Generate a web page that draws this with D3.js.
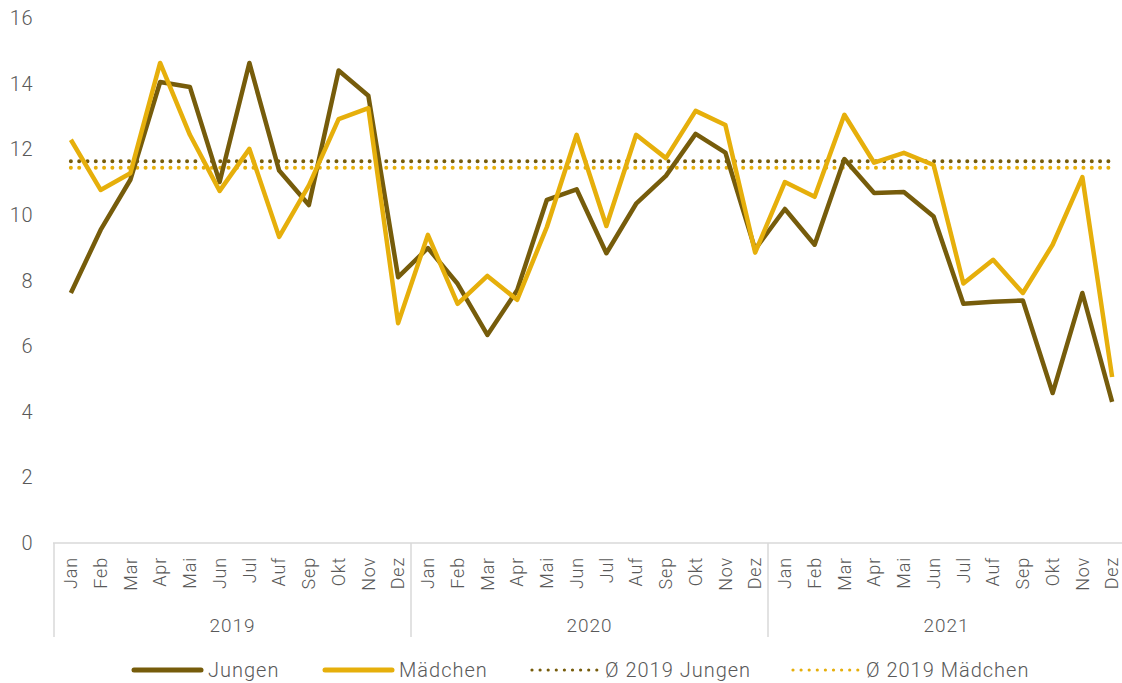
<!DOCTYPE html>
<html>
<head>
<meta charset="utf-8">
<script src="https://cdn.jsdelivr.net/npm/d3@7"></script>
<style>
  body { margin: 0; background: #fff; }
  svg text { font-family: Roboto, "Noto Sans", sans-serif; font-weight: 300; fill: #595959; }
</style>
</head>
<body>
<div id="chart"></div>
<script>
const years = ["2019", "2020", "2021"];
const months = ["Jan", "Feb", "Mar", "Apr", "Mai", "Jun", "Jul", "Auf", "Sep", "Okt", "Nov", "Dez"];
const yTicks = [0, 2, 4, 6, 8, 10, 12, 14, 16];

const jungen = [
  7.62, 9.54, 11.07, 14.05, 13.9, 11.0, 14.63, 11.35, 10.3, 14.4, 13.63, 8.1,
  8.99, 7.9, 6.34, 7.7, 10.46, 10.78, 8.83, 10.34, 11.19, 12.47, 11.9, 8.95,
  10.18, 9.09, 11.7, 10.67, 10.7, 9.95, 7.29, 7.35, 7.39, 4.57, 7.62, 4.3
];
const maedchen = [
  12.29, 10.76, 11.27, 14.63, 12.44, 10.73, 12.01, 9.33, 10.9, 12.92, 13.25, 6.7,
  9.39, 7.29, 8.14, 7.41, 9.63, 12.44, 9.66, 12.44, 11.73, 13.17, 12.74, 8.85,
  11.0, 10.55, 13.05, 11.59, 11.89, 11.52, 7.91, 8.63, 7.62, 9.09, 11.15, 5.06
];

const colJ = "#765c0b";
const colM = "#e6af0b";

const width = 1122, height = 683;
const svg = d3.select("#chart").append("svg")
  .attr("width", width)
  .attr("height", height);

const idx = d3.range(jungen.length);
const x = d3.scaleBand().domain(idx).range([56, 1127]).padding(0);
const cx = i => x(i) + x.bandwidth() / 2;
const y = d3.scaleLinear().domain([0, 16]).range([543, 18]);

// y labels
svg.append("g").selectAll("text")
  .data(yTicks)
  .join("text")
  .attr("x", 33)
  .attr("y", d => y(d))
  .attr("dy", "0.35em")
  .attr("text-anchor", "end")
  .attr("font-size", 20)
  .attr("letter-spacing", 0.5)
  .text(d => d);

// x axis
const axis = svg.append("g");
axis.append("line")
  .attr("x1", 53).attr("x2", width)
  .attr("y1", y(0)).attr("y2", y(0))
  .attr("stroke", "#d9d9d9").attr("stroke-width", 1.5);

const sepX = [56, 56 + 12 * x.bandwidth(), 56 + 24 * x.bandwidth()];
axis.selectAll("line.sep")
  .data(sepX)
  .join("line")
  .attr("class", "sep")
  .attr("x1", d => d - 2).attr("x2", d => d - 2)
  .attr("y1", y(0)).attr("y2", 637)
  .attr("stroke", "#d9d9d9").attr("stroke-width", 1.5);

axis.selectAll("text.month")
  .data(idx)
  .join("text")
  .attr("class", "month")
  .attr("transform", i => `translate(${cx(i)},557) rotate(-90)`)
  .attr("text-anchor", "end")
  .attr("dy", "0.35em")
  .attr("font-size", 18)
  .attr("letter-spacing", 0.8)
  .text(i => months[i % 12]);

axis.selectAll("text.year")
  .data(years)
  .join("text")
  .attr("class", "year")
  .attr("x", (d, k) => x(k * 12) + 6 * x.bandwidth() - 2)
  .attr("y", 625)
  .attr("dy", "0.35em")
  .attr("text-anchor", "middle")
  .attr("font-size", 19)
  .attr("letter-spacing", 1)
  .text(d => d);

// average lines (2019)
const avgJ = d3.mean(jungen.slice(0, 12));
const avgM = d3.mean(maedchen.slice(0, 12));

[[avgJ, colJ], [avgM, colM]].forEach(([v, c]) => {
  svg.append("line")
    .attr("x1", cx(0)).attr("x2", cx(35))
    .attr("y1", y(v)).attr("y2", y(v))
    .attr("stroke", c)
    .attr("stroke-width", 4)
    .attr("stroke-dasharray", "0,8.3")
    .attr("stroke-linecap", "round");
});

// lines
const line = d3.line().x((d, i) => cx(i)).y(d => y(d));

svg.append("path")
  .datum(jungen)
  .attr("d", line)
  .attr("fill", "none")
  .attr("stroke", colJ)
  .attr("stroke-width", 4.5)
  .attr("stroke-linejoin", "round");

svg.append("path")
  .datum(maedchen)
  .attr("d", line)
  .attr("fill", "none")
  .attr("stroke", colM)
  .attr("stroke-width", 4.5)
  .attr("stroke-linejoin", "round");

// legend
const legend = [
  { label: "Jungen", color: colJ, x: 132, dots: false },
  { label: "Mädchen", color: colM, x: 323, dots: false },
  { label: "Ø 2019 Jungen", color: colJ, x: 530, dots: true },
  { label: "Ø 2019 Mädchen", color: colM, x: 791, dots: true }
];
const lg = svg.append("g").selectAll("g")
  .data(legend)
  .join("g")
  .attr("transform", d => `translate(${d.x},670)`);

lg.append("line")
  .attr("x1", 2).attr("x2", d => d.dots ? 67 : 69)
  .attr("stroke", d => d.color)
  .attr("stroke-width", d => d.dots ? 3.2 : 5)
  .attr("stroke-linecap", "round")
  .attr("stroke-dasharray", d => d.dots ? "0,8.1" : null);

lg.append("text")
  .attr("x", d => d.dots ? 75 : 76)
  .attr("dy", "0.35em")
  .attr("font-size", 20)
  .attr("letter-spacing", 1)
  .text(d => d.label);
</script>
</body>
</html>
